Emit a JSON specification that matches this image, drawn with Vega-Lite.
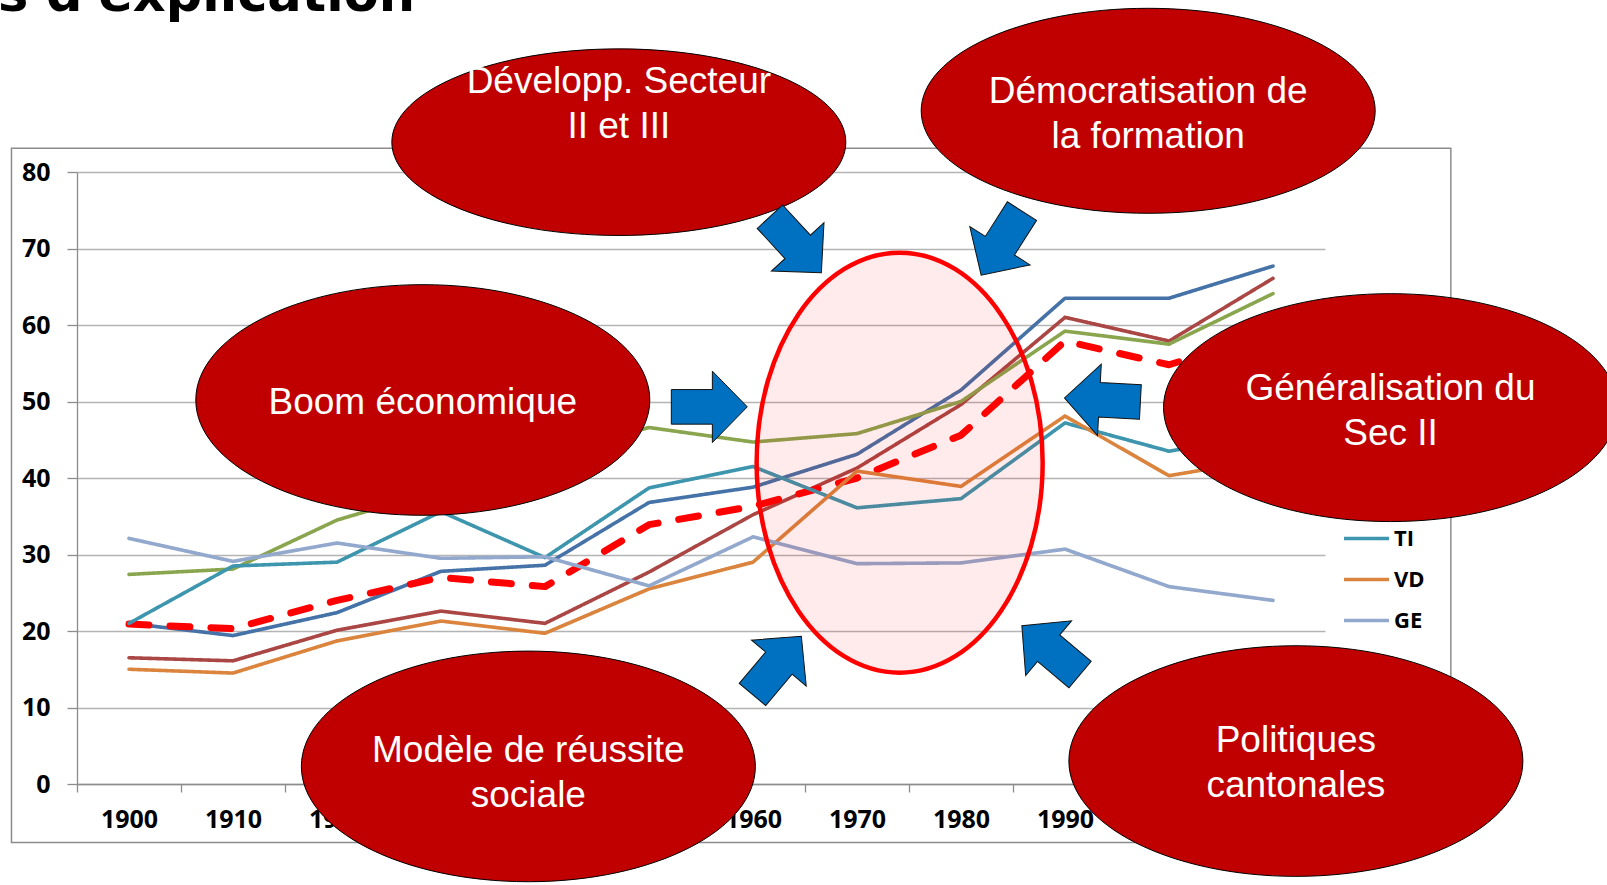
{
  "$schema": "https://vega.github.io/schema/vega-lite/v6.json",
  "width": 1248,
  "height": 612,
  "autosize": {"type": "none"},
  "padding": {"left": 77, "top": 172, "right": 282, "bottom": 101},
  "background": "white",
  "config": {
    "view": {"stroke": null},
    "legend": {
      "orient": "none",
      "legendX": 1265,
      "legendY": 346,
      "symbolType": "stroke",
      "symbolSize": 2025,
      "symbolStrokeWidth": 3.5,
      "clipHeight": 41,
      "rowPadding": 0,
      "padding": 0,
      "labelFont": "Open Sans",
      "labelFontWeight": "bold",
      "labelFontSize": 22,
      "labelColor": "#000000",
      "labelOffset": 3,
      "title": null
    }
  },
  "datasets": {
    "series": [
      {"year": 1900, "canton": "ZH", "value": 21.0}, {"year": 1910, "canton": "ZH", "value": 19.4}, {"year": 1920, "canton": "ZH", "value": 22.4}, {"year": 1930, "canton": "ZH", "value": 27.8}, {"year": 1940, "canton": "ZH", "value": 28.6}, {"year": 1950, "canton": "ZH", "value": 36.8}, {"year": 1960, "canton": "ZH", "value": 38.8}, {"year": 1970, "canton": "ZH", "value": 43.1}, {"year": 1980, "canton": "ZH", "value": 51.5}, {"year": 1990, "canton": "ZH", "value": 63.5}, {"year": 2000, "canton": "ZH", "value": 63.5}, {"year": 2010, "canton": "ZH", "value": 67.7},
      {"year": 1900, "canton": "BS", "value": 16.5}, {"year": 1910, "canton": "BS", "value": 16.1}, {"year": 1920, "canton": "BS", "value": 20.1}, {"year": 1930, "canton": "BS", "value": 22.6}, {"year": 1940, "canton": "BS", "value": 21.0}, {"year": 1950, "canton": "BS", "value": 27.7}, {"year": 1960, "canton": "BS", "value": 35.2}, {"year": 1970, "canton": "BS", "value": 41.3}, {"year": 1980, "canton": "BS", "value": 49.6}, {"year": 1990, "canton": "BS", "value": 61.0}, {"year": 2000, "canton": "BS", "value": 57.9}, {"year": 2010, "canton": "BS", "value": 66.1},
      {"year": 1900, "canton": "NE", "value": 27.4}, {"year": 1910, "canton": "NE", "value": 28.1}, {"year": 1920, "canton": "NE", "value": 34.5}, {"year": 1930, "canton": "NE", "value": 38.5}, {"year": 1940, "canton": "NE", "value": 43.0}, {"year": 1950, "canton": "NE", "value": 46.6}, {"year": 1960, "canton": "NE", "value": 44.7}, {"year": 1970, "canton": "NE", "value": 45.8}, {"year": 1980, "canton": "NE", "value": 50.0}, {"year": 1990, "canton": "NE", "value": 59.2}, {"year": 2000, "canton": "NE", "value": 57.5}, {"year": 2010, "canton": "NE", "value": 64.1},
      {"year": 1900, "canton": "CH", "value": 20.9}, {"year": 1910, "canton": "CH", "value": 20.3}, {"year": 1920, "canton": "CH", "value": 24.0}, {"year": 1930, "canton": "CH", "value": 27.0}, {"year": 1940, "canton": "CH", "value": 25.8}, {"year": 1950, "canton": "CH", "value": 33.9}, {"year": 1960, "canton": "CH", "value": 36.3}, {"year": 1970, "canton": "CH", "value": 40.0}, {"year": 1980, "canton": "CH", "value": 45.6}, {"year": 1990, "canton": "CH", "value": 57.9}, {"year": 2000, "canton": "CH", "value": 54.8}, {"year": 2010, "canton": "CH", "value": 59.0},
      {"year": 1900, "canton": "TI", "value": 21.0}, {"year": 1910, "canton": "TI", "value": 28.5}, {"year": 1920, "canton": "TI", "value": 29.0}, {"year": 1930, "canton": "TI", "value": 35.6}, {"year": 1940, "canton": "TI", "value": 29.6}, {"year": 1950, "canton": "TI", "value": 38.7}, {"year": 1960, "canton": "TI", "value": 41.5}, {"year": 1970, "canton": "TI", "value": 36.1}, {"year": 1980, "canton": "TI", "value": 37.3}, {"year": 1990, "canton": "TI", "value": 47.2}, {"year": 2000, "canton": "TI", "value": 43.5}, {"year": 2010, "canton": "TI", "value": 45.8},
      {"year": 1900, "canton": "VD", "value": 15.0}, {"year": 1910, "canton": "VD", "value": 14.5}, {"year": 1920, "canton": "VD", "value": 18.7}, {"year": 1930, "canton": "VD", "value": 21.3}, {"year": 1940, "canton": "VD", "value": 19.7}, {"year": 1950, "canton": "VD", "value": 25.5}, {"year": 1960, "canton": "VD", "value": 29.0}, {"year": 1970, "canton": "VD", "value": 40.9}, {"year": 1980, "canton": "VD", "value": 38.9}, {"year": 1990, "canton": "VD", "value": 48.1}, {"year": 2000, "canton": "VD", "value": 40.3}, {"year": 2010, "canton": "VD", "value": 42.6},
      {"year": 1900, "canton": "GE", "value": 32.1}, {"year": 1910, "canton": "GE", "value": 29.1}, {"year": 1920, "canton": "GE", "value": 31.5}, {"year": 1930, "canton": "GE", "value": 29.5}, {"year": 1940, "canton": "GE", "value": 29.7}, {"year": 1950, "canton": "GE", "value": 25.9}, {"year": 1960, "canton": "GE", "value": 32.3}, {"year": 1970, "canton": "GE", "value": 28.8}, {"year": 1980, "canton": "GE", "value": 28.9}, {"year": 1990, "canton": "GE", "value": 30.7}, {"year": 2000, "canton": "GE", "value": 25.8}, {"year": 2010, "canton": "GE", "value": 24.0}
    ],
    "bubbles": [
      {"label": "Développ. Secteur\nII et III", "x": 1947.1, "y": 83.9, "ty": 91.8},
      {"label": "Démocratisation de\nla formation", "x": 1998.0, "y": 88.0, "ty": 90.4},
      {"label": "Boom économique", "x": 1928.25, "y": 50.2, "ty": 49.75},
      {"label": "Généralisation du\nSec II", "x": 2021.3, "y": 49.2, "ty": 51.65},
      {"label": "Modèle de réussite\nsociale", "x": 1938.4, "y": 2.3, "ty": 4.3},
      {"label": "Politiques\ncantonales", "x": 2012.2, "y": 3.0, "ty": 5.6}
    ],
    "arrows": [
      {"x": 1964.1, "y": 70.5, "dir": 47.4},
      {"x": 1983.9, "y": 70.7, "dir": 122.5},
      {"x": 1955.8, "y": 49.3, "dir": 0},
      {"x": 1993.6, "y": 50.2, "dir": 183},
      {"x": 1962.3, "y": 15.5, "dir": 310},
      {"x": 1988.65, "y": 17.5, "dir": 220}
    ],
    "focus": [{"x": 1974.1, "y": 42.0}],
    "frame": [{"x1": 1888.7, "x2": 2027.1, "y1": 83.1, "y2": -7.65}],
    "heading": [{"x": 1927.5, "y": 101.0, "text": "Pistes d'explication"}]
  },
  "layer": [
    {
      "data": {"name": "frame"},
      "mark": {"type": "rect", "filled": false, "stroke": "#8C8C8C", "strokeWidth": 1.5},
      "encoding": {
        "x": {"field": "x1", "type": "quantitative", "scale": {"domain": [1895, 2015], "nice": false, "zero": false}, "axis": {"title": null}},
        "x2": {"field": "x2"},
        "y": {"field": "y1", "type": "quantitative", "scale": {"domain": [0, 80], "nice": false}, "axis": {"title": null}},
        "y2": {"field": "y2"}
      }
    },
    {
      "data": {"name": "series"},
      "mark": {"type": "line", "strokeCap": "round", "strokeJoin": "round"},
      "encoding": {
        "x": {
          "field": "year", "type": "quantitative",
          "scale": {"domain": [1895, 2015], "nice": false, "zero": false},
          "axis": {
            "title": null,
            "values": [1895, 1905, 1915, 1925, 1935, 1945, 1955, 1965, 1975, 1985, 1995, 2005, 2015],
            "labelExpr": "datum.value < 2010 ? toString(datum.value + 5) : ''",
            "labelOffset": 52,
            "labelAlign": "center",
            "labelFlush": false,
            "labelOverlap": false,
            "labelBound": false,
            "grid": false,
            "tickSize": 8,
            "tickColor": "#8C8C8C",
            "tickWidth": 1.3,
            "domainColor": "#8C8C8C",
            "domainWidth": 1.3,
            "labelPadding": 15,
            "labelFont": "Open Sans",
            "labelFontWeight": "bold",
            "labelFontSize": 25,
            "labelColor": "#000000"
          }
        },
        "y": {
          "field": "value", "type": "quantitative",
          "scale": {"domain": [0, 80], "nice": false},
          "axis": {
            "title": null,
            "values": [0, 10, 20, 30, 40, 50, 60, 70, 80],
            "grid": true,
            "gridColor": "#B4B4B4",
            "gridWidth": 1.3,
            "tickSize": 10,
            "tickColor": "#8C8C8C",
            "tickWidth": 1.3,
            "domainColor": "#8C8C8C",
            "domainWidth": 1.3,
            "labelPadding": 17,
            "labelFont": "Open Sans",
            "labelFontWeight": "bold",
            "labelFontSize": 25,
            "labelColor": "#000000"
          }
        },
        "color": {
          "field": "canton", "type": "nominal",
          "scale": {
            "domain": ["ZH", "BS", "NE", "CH", "TI", "VD", "GE"],
            "range": ["#4572A7", "#AA4643", "#89A54E", "#FF0000", "#3D96AE", "#DB843D", "#92A8CD"]
          },
          "legend": {"values": ["TI", "VD", "GE"]}
        },
        "strokeDash": {
          "field": "canton", "type": "nominal",
          "scale": {
            "domain": ["ZH", "BS", "NE", "CH", "TI", "VD", "GE"],
            "range": [[1, 0], [1, 0], [1, 0], [20, 21], [1, 0], [1, 0], [1, 0]]
          },
          "legend": {"values": ["TI", "VD", "GE"]}
        },
        "strokeWidth": {"condition": {"test": "datum.canton === 'CH'", "value": 7}, "value": 3.6},
        "order": {"field": "year", "type": "quantitative"}
      }
    },
    {
      "data": {"name": "bubbles"},
      "mark": {"type": "point", "filled": true, "fill": "#C00000", "stroke": "#000000", "strokeWidth": 1, "opacity": 1, "size": 206116},
      "encoding": {
        "x": {"field": "x", "type": "quantitative", "axis": {"title": null}},
        "y": {"field": "y", "type": "quantitative", "axis": {"title": null}},
        "shape": {
          "field": "label", "type": "nominal", "legend": null,
          "scale": {
            "domain": ["Développ. Secteur\nII et III", "Démocratisation de\nla formation", "Boom économique", "Généralisation du\nSec II", "Modèle de réussite\nsociale", "Politiques\ncantonales"],
            "range": [
              "M-1,0C-1,-0.227,-0.5523,-0.411,0,-0.411C0.5523,-0.411,1,-0.227,1,0C1,0.227,0.5523,0.411,0,0.411C-0.5523,0.411,-1,0.227,-1,0Z",
              "M-1,0C-1,-0.2494,-0.5523,-0.4515,0,-0.4515C0.5523,-0.4515,1,-0.2494,1,0C1,0.2494,0.5523,0.4515,0,0.4515C-0.5523,0.4515,-1,0.2494,-1,0Z",
              "M-1,0C-1,-0.2806,-0.5523,-0.508,0,-0.508C0.5523,-0.508,1,-0.2806,1,0C1,0.2806,0.5523,0.508,0,0.508C-0.5523,0.508,-1,0.2806,-1,0Z",
              "M-1,0C-1,-0.2773,-0.5523,-0.502,0,-0.502C0.5523,-0.502,1,-0.2773,1,0C1,0.2773,0.5523,0.502,0,0.502C-0.5523,0.502,-1,0.2773,-1,0Z",
              "M-1,0C-1,-0.2806,-0.5523,-0.508,0,-0.508C0.5523,-0.508,1,-0.2806,1,0C1,0.2806,0.5523,0.508,0,0.508C-0.5523,0.508,-1,0.2806,-1,0Z",
              "M-1,0C-1,-0.2806,-0.5523,-0.508,0,-0.508C0.5523,-0.508,1,-0.2806,1,0C1,0.2806,0.5523,0.508,0,0.508C-0.5523,0.508,-1,0.2806,-1,0Z"
            ]
          }
        }
      }
    },
    {
      "data": {"name": "bubbles"},
      "mark": {"type": "text", "font": "Liberation Sans", "fontSize": 37, "color": "#FFFFFF", "align": "center", "baseline": "middle", "lineBreak": "\n", "lineHeight": 45},
      "encoding": {
        "x": {"field": "x", "type": "quantitative", "axis": {"title": null}},
        "y": {"field": "ty", "type": "quantitative", "axis": {"title": null}},
        "text": {"field": "label", "type": "nominal"}
      }
    },
    {
      "data": {"name": "arrows"},
      "mark": {"type": "point", "filled": true, "fill": "#0070C0", "stroke": "#111111", "strokeWidth": 1, "opacity": 1, "size": 5776,
        "shape": "M-1,-0.455L0.08,-0.455L0.08,-0.94L1,0L0.08,0.94L0.08,0.455L-1,0.455Z"},
      "encoding": {
        "x": {"field": "x", "type": "quantitative", "axis": {"title": null}},
        "y": {"field": "y", "type": "quantitative", "axis": {"title": null}},
        "angle": {"field": "dir", "type": "quantitative", "scale": null}
      }
    },
    {
      "data": {"name": "focus"},
      "mark": {"type": "point", "filled": true, "fill": "#FF0000", "fillOpacity": 0.08, "stroke": "#FF0000", "strokeOpacity": 1, "strokeWidth": 4.5, "opacity": 1, "size": 176400,
        "shape": "M-0.681,0C-0.681,-0.5523,-0.3761,-1,0,-1C0.3761,-1,0.681,-0.5523,0.681,0C0.681,0.5523,0.3761,1,0,1C-0.3761,1,-0.681,0.5523,-0.681,0Z"},
      "encoding": {
        "x": {"field": "x", "type": "quantitative", "axis": {"title": null}},
        "y": {"field": "y", "type": "quantitative", "axis": {"title": null}}
      }
    },
    {
      "data": {"name": "heading"},
      "mark": {"type": "text", "font": "DejaVu Sans", "fontWeight": "bold", "fontSize": 51, "color": "#000000", "align": "right", "baseline": "alphabetic"},
      "encoding": {
        "x": {"field": "x", "type": "quantitative", "axis": {"title": null}},
        "y": {"field": "y", "type": "quantitative", "axis": {"title": null}},
        "text": {"field": "text", "type": "nominal"}
      }
    }
  ]
}
